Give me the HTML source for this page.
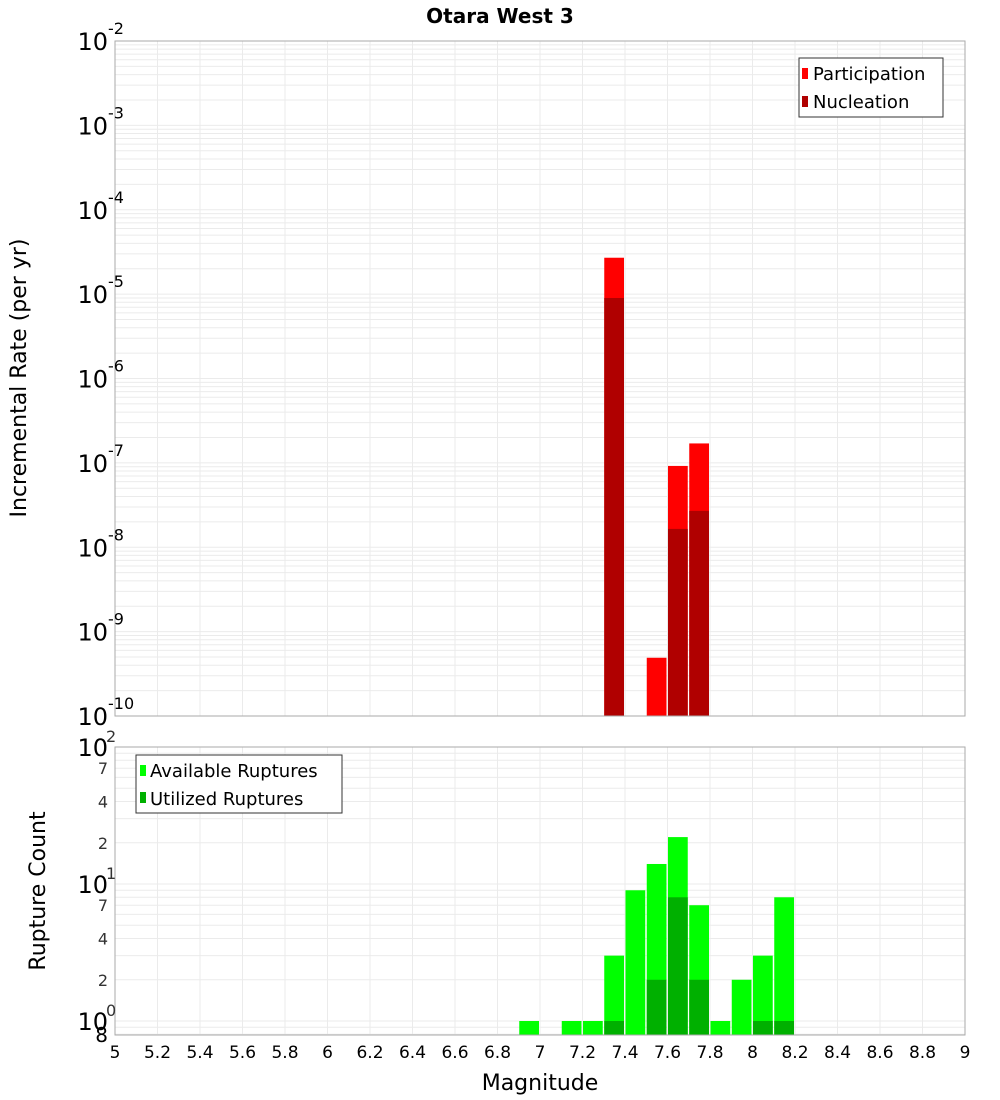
<!DOCTYPE html>
<html><head><meta charset="utf-8">
<style>
body{margin:0;background:#fff;font-family:"DejaVu Sans","Liberation Sans",sans-serif;}
svg{display:block}
</style></head>
<body>
<svg id="chart" width="1000" height="1100" xmlns="http://www.w3.org/2000/svg">
<text x="500" y="23" text-anchor="middle" font-size="20" font-weight="bold" font-family="DejaVu Sans, Liberation Sans, sans-serif">Otara West 3</text>
</svg>
<script>
const mags = [6.95,7.15,7.25,7.35,7.45,7.55,7.65,7.75,7.85,7.95,8.05,8.15];
const participation = [0,0,0,2.7e-5,0,4.9e-10,9.2e-8,1.7e-7,0,0,0,0];
const nucleation = [0,0,0,9e-6,0,0,1.65e-8,2.7e-8,0,0,0,0];
const available = [1,1,1,3,9,14,22,7,1,2,3,8];
const utilized = [0,0,0,1,0,2,8,2,0,0,1,1];
const xTicks = [5,5.2,5.4,5.6,5.8,6,6.2,6.4,6.6,6.8,7,7.2,7.4,7.6,7.8,8,8.2,8.4,8.6,8.8,9];
const topExps = [-2,-3,-4,-5,-6,-7,-8,-9,-10];
const bottomMinorLabels = [2,4,7];

const NS="http://www.w3.org/2000/svg";
const svg=document.getElementById('chart');
function el(tag,attrs,parent){const e=document.createElementNS(NS,tag);for(const k in attrs)e.setAttribute(k,attrs[k]);(parent||svg).appendChild(e);return e;}
const X0=115,X1=965;
const x=m=>X0+(m-5)/(9-5)*(X1-X0);
const T0=41,T1=716; // 1e-2 .. 1e-10
const yTop=v=>T0+(-2-Math.log10(v))/8*(T1-T0);
const B0=747,BPD=137; // 1e2 at B0
const B1=1035;
const yBot=v=>B0+(2-Math.log10(v))*BPD;

// Top panel
const gTop=el('g',{});


el('rect',{x:X0,y:T0,width:X1-X0,height:T1-T0,fill:'#fff'},gTop);
for(let e=-10;e<-2;e++){for(let k=1;k<10;k++){const yy=yTop(k*Math.pow(10,e));el('line',{x1:X0,x2:X1,y1:yy,y2:yy,stroke:'#ebebeb','stroke-width':1},gTop);}}
xTicks.forEach(t=>{el('line',{x1:x(t),x2:x(t),y1:T0,y2:T1,stroke:'#ebebeb'},gTop);});
mags.forEach((m,i)=>{
  if(participation[i]>0){const r=el('rect',{x:x(m-0.05)+0.5,y:yTop(participation[i]),width:x(m+0.05)-x(m-0.05)-1.5,height:T1-yTop(participation[i]),fill:'#ff0000'},gTop);
  
  }
  if(nucleation[i]>0){const r=el('rect',{x:x(m-0.05)+0.5,y:yTop(nucleation[i]),width:x(m+0.05)-x(m-0.05)-1.5,height:T1-yTop(nucleation[i]),fill:'#b00000'},gTop);
  
  }
});
el('rect',{x:X0,y:T0,width:X1-X0,height:T1-T0,fill:'none',stroke:'#aaa'},gTop);
topExps.forEach(e=>{
  const yy=yTop(Math.pow(10,e));
  const t=el('text',{x:108,y:yy+9,'text-anchor':'end','font-size':24},gTop);
  
  
  t.textContent='10';
  const s=el('text',{x:108,y:yy-7,'font-size':16},gTop);
  s.textContent=String(e);
});
// top legend
const lg=el('g',{});


el('rect',{x:799,y:58,width:144,height:59,fill:'#fff',stroke:'#333'},lg);
el('rect',{x:802,y:68,width:6,height:11,fill:'#ff0000'},lg);
el('rect',{x:802,y:96,width:6,height:11,fill:'#b00000'},lg);
let t1=el('text',{x:813,y:80,'font-size':18},lg);t1.textContent='Participation';
let t2=el('text',{x:813,y:108,'font-size':18},lg);t2.textContent='Nucleation';
const yt=el('text',{x:26,y:378,'text-anchor':'middle','font-size':22,transform:'rotate(-90 26 378)'});


yt.textContent='Incremental Rate (per yr)';

// Bottom panel
const gB=el('g',{});


for(let e=-1;e<2;e++){for(let k=1;k<10;k++){const v=k*Math.pow(10,e);const yy=yBot(v);if(yy<B0||yy>B1)continue;el('line',{x1:X0,x2:X1,y1:yy,y2:yy,stroke:'#ebebeb'},gB);}}
xTicks.forEach(t=>{el('line',{x1:x(t),x2:x(t),y1:B0,y2:B1,stroke:'#ebebeb'},gB);});
mags.forEach((m,i)=>{
  if(available[i]>0){const yy=yBot(available[i]);const r=el('rect',{x:x(m-0.05)+0.5,y:yy,width:x(m+0.05)-x(m-0.05)-1.5,height:B1-yy,fill:'#00ff00'},gB);
  
  }
  if(utilized[i]>0){const yy=yBot(utilized[i]);const r=el('rect',{x:x(m-0.05)+0.5,y:yy,width:x(m+0.05)-x(m-0.05)-1.5,height:B1-yy,fill:'#00b000'},gB);
  
  }
});
el('rect',{x:X0,y:B0,width:X1-X0,height:B1-B0,fill:'none',stroke:'#aaa'},gB);
[2,1,0].forEach(e=>{
  const yy=yBot(Math.pow(10,e));
  const t=el('text',{x:108,y:yy+9,'text-anchor':'end','font-size':24},gB);
  
  
  t.textContent='10';
  const s=el('text',{x:106,y:yy-5,'font-size':16,fill:'#333'},gB);s.textContent=String(e);
});
[0,1].forEach(e=>{bottomMinorLabels.forEach(k=>{const yy=yBot(k*Math.pow(10,e));const t=el('text',{x:108,y:yy+6,'text-anchor':'end','font-size':16,fill:'#333'},gB);t.textContent=String(k);});});
{const t=el('text',{x:108,y:B1+7,'text-anchor':'end','font-size':20},gB);t.textContent='8';}
const lb=el('g',{});


el('rect',{x:136,y:755,width:206,height:58,fill:'#fff',stroke:'#333'},lb);
el('rect',{x:140,y:765,width:6,height:11,fill:'#00ff00'},lb);
el('rect',{x:140,y:792,width:6,height:11,fill:'#00b000'},lb);
let t3=el('text',{x:150,y:777,'font-size':18},lb);t3.textContent='Available Ruptures';
let t4=el('text',{x:150,y:805,'font-size':18},lb);t4.textContent='Utilized Ruptures';
const yt2=el('text',{x:45,y:891,'text-anchor':'middle','font-size':22,transform:'rotate(-90 45 891)'});


yt2.textContent='Rupture Count';

xTicks.forEach(tk=>{
  const t=el('text',{x:x(tk),y:1058,'text-anchor':'middle','font-size':17});
  
  
  t.textContent=String(tk);
});
const xt=el('text',{x:540,y:1090,'text-anchor':'middle','font-size':22});


xt.textContent='Magnitude';
</script>
</body></html>
